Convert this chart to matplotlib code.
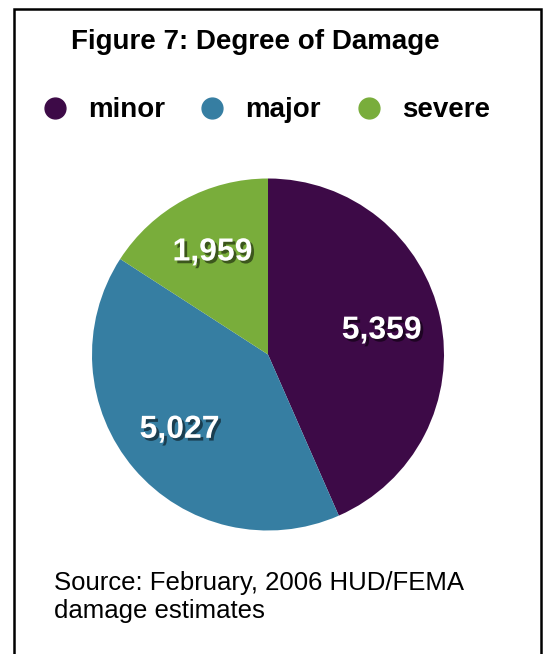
import matplotlib
matplotlib.use("Agg")
import matplotlib.pyplot as plt
from matplotlib import patheffects as pe
from matplotlib.lines import Line2D

categories = ["minor", "major", "severe"]
values = [5359, 5027, 1959]
colors = ["#3D0A47", "#367EA2", "#79AD3B"]
title = "Figure 7: Degree of Damage"
source = "Source: February, 2006 HUD/FEMA\ndamage estimates"

W, H = 544, 654
fig = plt.figure(figsize=(W / 100, H / 100), dpi=100)
plt.rcParams['font.family'] = ['Liberation Sans', 'DejaVu Sans']

def fx(px):
    return px / W

def fy(py):
    return 1 - py / H

# border (left, top, right)
fig.add_artist(Line2D([fx(14), fx(14), fx(541), fx(541)], [0, fy(9), fy(9), 0],
                      transform=fig.transFigure, color="black", lw=1.8,
                      solid_joinstyle="miter"))

fig.text(fx(255), fy(42), title, ha="center", va="center", fontsize=20,
         fontweight="bold")

# legend
leg_x = [55, 212, 369]
for c, name, x in zip(colors, categories, leg_x):
    fig.add_artist(Line2D([fx(x)], [fy(108)], transform=fig.transFigure,
                          marker="o", markersize=15, color=c, lw=0))
    fig.text(fx(x + 33), fy(110), name, ha="left", va="center", fontsize=20,
             fontweight="bold")

ax = fig.add_axes([fx(268 - 176), fy(354.5 + 176), 352 / W, 352 / H])
total = sum(values)
wedges, texts, autotexts = ax.pie(
    values, colors=colors, startangle=90, counterclock=False,
    autopct=lambda p: f"{round(p * total / 100):,}", pctdistance=0.66,
    wedgeprops=dict(linewidth=0),
    textprops=dict(color="white", fontsize=23, fontweight="bold"))
for t in autotexts:
    t.set_path_effects([pe.withSimplePatchShadow(offset=(2, -2),
                                                 shadow_rgbFace="black",
                                                 alpha=0.5)])
ax.set_xlim(-1, 1)
ax.set_ylim(-1, 1)
ax.set_aspect("equal")
ax.axis("off")

fig.text(fx(54), fy(597), source, ha="left", va="center", fontsize=18.5,
         linespacing=1.25)

fig.savefig("out.png", dpi=100, facecolor="white")
